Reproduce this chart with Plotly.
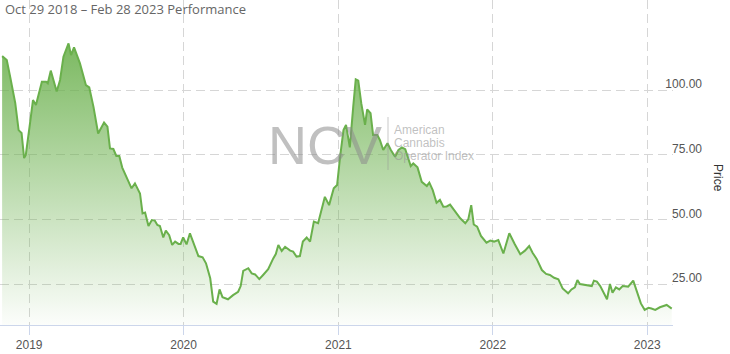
import plotly.graph_objects as go

dates = [
    "2018-10-29", "2018-11-09", "2018-11-17", "2018-11-29", "2018-12-07", "2018-12-14", "2018-12-20", "2018-12-24",
    "2019-01-03", "2019-01-10", "2019-01-17", "2019-01-31", "2019-02-10", "2019-02-14", "2019-02-21", "2019-03-07",
    "2019-03-15", "2019-03-23", "2019-04-04", "2019-04-10", "2019-04-17", "2019-05-01", "2019-05-15", "2019-05-23",
    "2019-06-02", "2019-06-13", "2019-06-27", "2019-07-05", "2019-07-11", "2019-07-19", "2019-07-26", "2019-08-02",
    "2019-08-09", "2019-08-20", "2019-08-31", "2019-09-08", "2019-09-20", "2019-09-26", "2019-10-02", "2019-10-10",
    "2019-10-18", "2019-10-25", "2019-10-31", "2019-11-06", "2019-11-14", "2019-11-20", "2019-11-28", "2019-12-05",
    "2019-12-12", "2019-12-20", "2019-12-25", "2019-12-31", "2020-01-08", "2020-01-16", "2020-01-28", "2020-02-05",
    "2020-02-15", "2020-02-23", "2020-03-04", "2020-03-11", "2020-03-19", "2020-03-26", "2020-04-02", "2020-04-15",
    "2020-04-27", "2020-05-09", "2020-05-15", "2020-05-21", "2020-06-02", "2020-06-10", "2020-06-18", "2020-06-28",
    "2020-07-07", "2020-07-19", "2020-07-31", "2020-08-06", "2020-08-12", "2020-08-20", "2020-08-28", "2020-09-09",
    "2020-09-16", "2020-09-24", "2020-10-02", "2020-10-09", "2020-10-18", "2020-10-26", "2020-11-04", "2020-11-14",
    "2020-11-30", "2020-12-10", "2020-12-21", "2020-12-29", "2021-01-05", "2021-01-13", "2021-01-19", "2021-01-28",
    "2021-02-05", "2021-02-11", "2021-02-17", "2021-02-24", "2021-03-05", "2021-03-10", "2021-03-18", "2021-03-24",
    "2021-04-03", "2021-04-09", "2021-04-17", "2021-04-27", "2021-05-05", "2021-05-15", "2021-05-23", "2021-05-31",
    "2021-06-08", "2021-06-16", "2021-06-21", "2021-06-27", "2021-07-07", "2021-07-17", "2021-07-29", "2021-08-04",
    "2021-08-12", "2021-08-21", "2021-08-29", "2021-09-06", "2021-09-14", "2021-09-22", "2021-10-04", "2021-10-16",
    "2021-10-28", "2021-11-04", "2021-11-11", "2021-11-17", "2021-11-25", "2021-12-04", "2021-12-17", "2021-12-26",
    "2022-01-04", "2022-01-14", "2022-01-26", "2022-02-09", "2022-02-22", "2022-03-07", "2022-03-18", "2022-03-28",
    "2022-04-05", "2022-04-15", "2022-04-27", "2022-05-07", "2022-05-16", "2022-05-26", "2022-06-05", "2022-06-15",
    "2022-06-28", "2022-07-06", "2022-07-14", "2022-07-20", "2022-07-26", "2022-08-11", "2022-08-23", "2022-08-28",
    "2022-09-04", "2022-09-12", "2022-09-20", "2022-09-28", "2022-10-05", "2022-10-11", "2022-10-19", "2022-10-27",
    "2022-11-04", "2022-11-17", "2022-11-29", "2022-12-11", "2022-12-17", "2022-12-26", "2023-01-04", "2023-01-11",
    "2023-01-20", "2023-01-31", "2023-02-16", "2023-02-28",
]

prices = [
    113.1, 111.6, 105.1, 95.0, 84.5, 83.4, 73.7, 74.9,
    87.2, 96.1, 94.2, 103.2, 103.2, 102.6, 107.5, 99.4,
    103.9, 112.9, 118.0, 113.5, 116.5, 110.3, 101.9, 101.0,
    93.5, 83.2, 87.4, 85.8, 77.4, 77.2, 74.5, 74.5,
    70.0, 66.0, 62.0, 63.9, 60.0, 52.3, 52.6, 47.4,
    49.7, 49.5, 47.8, 47.4, 43.0, 45.6, 43.9, 40.1,
    41.4, 40.5, 40.5, 43.0, 40.3, 44.6, 39.7, 35.8,
    35.3, 33.0, 27.2, 18.2, 17.3, 22.9, 19.9, 19.1,
    20.7, 22.0, 24.2, 30.1, 31.1, 29.1, 28.7, 26.9,
    28.5, 30.7, 34.9, 36.6, 40.1, 37.8, 39.4, 37.9,
    37.5, 35.6, 35.8, 41.4, 43.0, 41.4, 49.1, 48.5,
    58.7, 55.5, 62.0, 63.3, 74.2, 84.5, 86.5, 77.8,
    93.5, 104.1, 103.6, 94.9, 86.5, 92.5, 91.0, 82.6,
    82.6, 80.7, 76.8, 79.4, 76.8, 74.2, 76.8, 77.8,
    77.1, 72.9, 70.6, 71.6, 70.1, 64.5, 62.9, 64.2,
    61.3, 56.4, 57.5, 54.9, 55.0, 55.7, 53.0, 50.4,
    48.5, 50.0, 55.5, 48.0, 47.2, 43.6, 41.0, 41.8,
    41.4, 42.0, 36.8, 44.6, 40.4, 36.5, 37.9, 39.7,
    37.1, 34.6, 30.4, 28.9, 28.5, 27.4, 26.8, 23.3,
    21.4, 22.9, 23.7, 26.5, 25.0, 24.6, 24.2, 26.3,
    25.9, 24.2, 21.4, 19.1, 25.0, 21.6, 23.7, 22.9,
    24.2, 24.0, 26.3, 20.1, 17.5, 15.0, 15.8, 15.5,
    15.0, 16.0, 16.9, 15.5,
]

year_ticks = ["2019-01-01", "2020-01-01", "2021-01-01", "2022-01-01", "2023-01-01"]
year_labels = ["2019", "2020", "2021", "2022", "2023"]
price_ticks = [25, 50, 75, 100]

title_text = "Oct 29 2018 \u2013 Feb 28 2023 Performance"
watermark = "NCV"
watermark_lines = ["American", "Cannabis", "Operator Index"]

W, H = 730, 354
PLOT_BOTTOM = 325
LINE = "#6ab04c"
GRID = "#d6d6d6"
AXIS = "#ccd6eb"
FONT = "Liberation Sans, Arial, sans-serif"

fig = go.Figure()
fig.add_trace(go.Scatter(
    x=dates, y=prices, mode="lines",
    line=dict(color=LINE, width=2),
    fill="tozeroy",
    fillgradient=dict(
        type="vertical",
        start=9, stop=120,
        colorscale=[[0, "rgba(106,176,76,0.02)"], [1, "rgba(106,176,76,0.9)"]],
    ),
    hoverinfo="skip",
    showlegend=False,
))

def py(px):
    return 1 - px / PLOT_BOTTOM

annotations = [
    dict(text=title_text, x=3 / W, y=py(9), xref="paper", yref="paper",
         xanchor="left", yanchor="middle", showarrow=False,
         font=dict(family="Open Sans, sans-serif", size=13, color="#666666")),
    dict(text="Price", x=718 / W, y=py(178), xref="paper", yref="paper",
         xanchor="center", yanchor="middle", showarrow=False, textangle=90,
         font=dict(family=FONT, size=12, color="#333333")),
    dict(text=watermark, x=325 / W, y=py(145), xref="paper", yref="paper",
         xanchor="center", yanchor="middle", showarrow=False,
         font=dict(family=FONT, size=54, color="rgba(140,140,140,0.55)")),
]
for i, t in enumerate(watermark_lines):
    annotations.append(dict(
        text=t, x=392 / W, y=py(130 + 13 * i), xref="paper", yref="paper",
        xanchor="left", yanchor="middle", showarrow=False,
        font=dict(family=FONT, size=12, color="rgba(150,150,150,0.6)")))

fig.update_layout(
    width=W, height=H,
    margin=dict(l=0, r=0, t=0, b=H - PLOT_BOTTOM, autoexpand=False),
    paper_bgcolor="white", plot_bgcolor="white",
    annotations=annotations,
    shapes=[dict(type="line", xref="paper", yref="paper",
                 x0=388 / W, x1=388 / W, y0=py(117), y1=py(170),
                 line=dict(color="rgba(150,150,150,0.5)", width=1))],
    xaxis=dict(
        type="date", domain=[0, 673 / W],
        range=["2018-10-24", "2023-03-03"],
        tickvals=year_ticks, ticktext=year_labels,
        ticks="outside", ticklen=9, tickcolor=AXIS, tickwidth=1,
        showline=True, linecolor=AXIS, linewidth=1,
        showgrid=True, gridcolor=GRID, griddash="9px,5px", gridwidth=1,
        zeroline=False, automargin=False,
        tickfont=dict(family=FONT, size=12, color="#555555"),
    ),
    yaxis=dict(
        range=[9.15, 134.8], side="right", anchor="free", position=705 / W,
        ticklabelposition="inside", ticklabelshift=-6,
        tickvals=price_ticks, tickformat=".2f", ticks="",
        showline=False, zeroline=False,
        showgrid=True, gridcolor=GRID, griddash="9px,5px", gridwidth=1,
        automargin=False,
        tickfont=dict(family=FONT, size=12, color="#555555"),
    ),
)

fig.write_html("out.html")
